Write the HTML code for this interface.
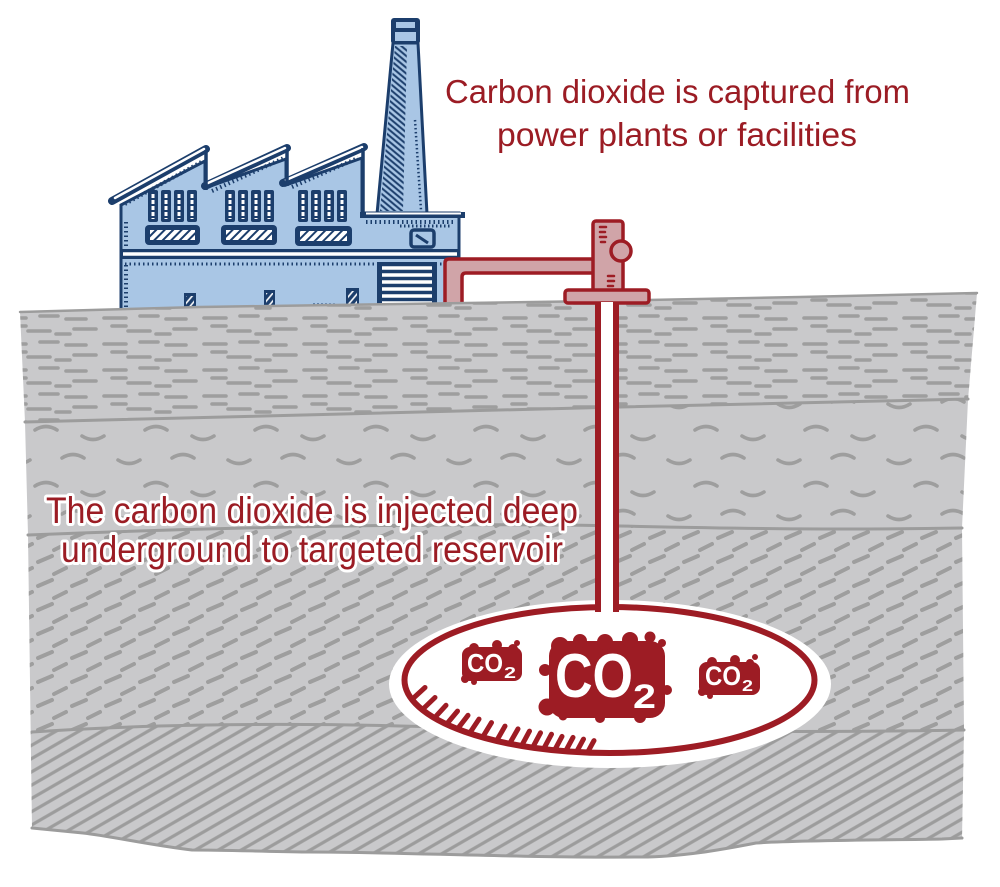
<!DOCTYPE html>
<html><head><meta charset="utf-8"><style>html,body{margin:0;padding:0;background:#fff;}svg{display:block}</style></head>
<body>
<svg width="1000" height="887" viewBox="0 0 1000 887" xmlns="http://www.w3.org/2000/svg">
<defs>
  <pattern id="pA" width="100" height="26" patternUnits="userSpaceOnUse">
    <g stroke="#9e9e9e" stroke-width="3.6" stroke-linecap="round" fill="none">
      <path d="M4,6 H26 M40,4 H58 M66,7 H86 M28,19 H50 M12,14 H26 M74,17 H96 M56,22 H70"/>
    </g>
  </pattern>
  <pattern id="pB" width="110" height="56" patternUnits="userSpaceOnUse">
    <g stroke="#9e9e9e" stroke-width="3.6" stroke-linecap="round" fill="none">
      <path d="M8,12 q11,7 22,0 M62,10 q11,-7 22,0 M35,38 q11,-7 22,0 M82,44 q11,7 22,0"/>
    </g>
  </pattern>
  <pattern id="pC" width="34" height="24" patternUnits="userSpaceOnUse">
    <g stroke="#9e9e9e" stroke-width="4" stroke-linecap="round" fill="none">
      <path d="M4,10 L18,4 M20,22 L32,16"/>
    </g>
  </pattern>
  <pattern id="pD" width="12" height="11.5" patternUnits="userSpaceOnUse" patternTransform="rotate(-30)">
    <line x1="0" y1="5.75" x2="12" y2="5.75" stroke="#9c9c9c" stroke-width="3.2"/>
  </pattern>
  <pattern id="nh" width="4.5" height="4.5" patternUnits="userSpaceOnUse" patternTransform="rotate(40)">
    <line x1="0" y1="2.25" x2="4.5" y2="2.25" stroke="#1c3e6c" stroke-width="2"/>
  </pattern>
  <pattern id="wh" width="6" height="6" patternUnits="userSpaceOnUse" patternTransform="rotate(-45)">
    <line x1="0" y1="3" x2="6" y2="3" stroke="#1c3e6c" stroke-width="2"/>
  </pattern>
  <pattern id="dh" width="5" height="5" patternUnits="userSpaceOnUse" patternTransform="rotate(-50)">
    <line x1="0" y1="2.5" x2="5" y2="2.5" stroke="#ffffff" stroke-width="1.6"/>
  </pattern>
  <clipPath id="ground">
    <path d="M20,312 L200,307 L400,304 L600,301 L800,297 L977,293 L968,400 L962,528 L964,730 L962,838 L942,839 C900,840 800,840 756,843 C720,850 680,857 641,857 C520,858 400,852 308,852 C250,851 220,850 192,850 C150,845 110,836 83,833 L32,828 L28,535 L25,422 Z"/>
  </clipPath>
</defs>

<rect width="1000" height="887" fill="#ffffff"/>

<!-- FACTORY -->
<g>
  <polygon points="393,43 418,43 427,214 377,214" fill="#a9c6e5" stroke="#1c3e6c" stroke-width="3"/>
  <polygon points="395,46 407,46 403,211 380,211" fill="url(#nh)"/>
  <line x1="415" y1="120" x2="421" y2="210" stroke="#1c3e6c" stroke-width="2.5" stroke-dasharray="1.5 2.5"/>
  <rect x="391" y="18" width="29" height="26" rx="3" fill="#1c3e6c"/>
  <rect x="396" y="22" width="19" height="6" fill="#a9c6e5"/>
  <rect x="395" y="32" width="21" height="9" fill="#a9c6e5"/>
  <path d="M121,205 L205,161 L205,188 L286,159 L286,185 L362,158 L362,213 L459,213 L459,318 L121,318 Z" fill="#a9c6e5" stroke="#1c3e6c" stroke-width="3"/>
  <g stroke-linecap="round">
    <line x1="112" y1="201" x2="206" y2="149" stroke="#1c3e6c" stroke-width="8"/>
    <line x1="115" y1="198" x2="204" y2="149" stroke="#ffffff" stroke-width="2.5"/>
    <line x1="205" y1="186" x2="287" y2="148" stroke="#1c3e6c" stroke-width="8"/>
    <line x1="208" y1="183" x2="285" y2="148" stroke="#ffffff" stroke-width="2.5"/>
    <line x1="283" y1="183" x2="364" y2="147" stroke="#1c3e6c" stroke-width="8"/>
    <line x1="286" y1="180" x2="362" y2="147" stroke="#ffffff" stroke-width="2.5"/>
  </g>
  <line x1="206" y1="150" x2="206" y2="190" stroke="#1c3e6c" stroke-width="3.5"/>
  <line x1="287" y1="150" x2="287" y2="186" stroke="#1c3e6c" stroke-width="3.5"/>
  <line x1="363" y1="148" x2="363" y2="214" stroke="#1c3e6c" stroke-width="3.5"/>
  <g stroke="#1c3e6c" stroke-width="4" stroke-dasharray="1.5 3">
    <line x1="125" y1="204" x2="203" y2="161"/>
    <line x1="212" y1="191" x2="284" y2="158"/>
    <line x1="292" y1="187" x2="358" y2="158"/>
    <line x1="366" y1="222" x2="455" y2="222"/>
    <line x1="126" y1="265" x2="126" y2="312"/>
    <line x1="126" y1="222" x2="126" y2="246"/>
    <line x1="125" y1="264" x2="455" y2="264" stroke-width="3"/>
  </g>
  <line x1="360" y1="215" x2="465" y2="215" stroke="#1c3e6c" stroke-width="6"/>
  <line x1="366" y1="213.5" x2="461" y2="213.5" stroke="#ffffff" stroke-width="2"/>
  <rect x="121" y="249" width="338" height="10" fill="#1c3e6c"/>
  <line x1="123" y1="254" x2="457" y2="254" stroke="#ffffff" stroke-width="3.5"/>
  <g fill="#1c3e6c">
    <rect x="148" y="190" width="10" height="32" rx="2"/><rect x="161" y="190" width="10" height="32" rx="2"/><rect x="174" y="190" width="10" height="32" rx="2"/><rect x="187" y="190" width="10" height="32" rx="2"/>
    <rect x="225" y="190" width="10" height="32" rx="2"/><rect x="238" y="190" width="10" height="32" rx="2"/><rect x="251" y="190" width="10" height="32" rx="2"/><rect x="264" y="190" width="10" height="32" rx="2"/>
    <rect x="298" y="190" width="10" height="32" rx="2"/><rect x="311" y="190" width="10" height="32" rx="2"/><rect x="324" y="190" width="10" height="32" rx="2"/><rect x="337" y="190" width="10" height="32" rx="2"/>
  </g>
  <g stroke="#ffffff" stroke-width="3" stroke-dasharray="4 2">
    <path d="M153,194 V219 M166,194 V219 M179,194 V219 M192,194 V219 M230,194 V219 M243,194 V219 M256,194 V219 M269,194 V219 M303,194 V219 M316,194 V219 M329,194 V219 M342,194 V219"/>
  </g>
  <g>
    <rect x="145" y="225" width="55" height="20" rx="4" fill="#1c3e6c"/>
    <rect x="150" y="230" width="45" height="10" fill="#ffffff"/><rect x="150" y="230" width="45" height="10" fill="url(#wh)"/>
    <rect x="221" y="225" width="56" height="20" rx="4" fill="#1c3e6c"/>
    <rect x="226" y="230" width="46" height="10" fill="#ffffff"/><rect x="226" y="230" width="46" height="10" fill="url(#wh)"/>
    <rect x="295" y="226" width="57" height="20" rx="4" fill="#1c3e6c"/>
    <rect x="300" y="231" width="47" height="10" fill="#ffffff"/><rect x="300" y="231" width="47" height="10" fill="url(#wh)"/>
    <rect x="411" y="230" width="23" height="17" rx="3" fill="#a9c6e5" stroke="#1c3e6c" stroke-width="3.5"/>
    <path d="M416,235 L428,243" stroke="#1c3e6c" stroke-width="3"/>
  </g>
  <line x1="400" y1="226" x2="452" y2="226" stroke="#1c3e6c" stroke-width="3" stroke-dasharray="1.5 2.5"/>
  <rect x="377" y="262" width="60" height="52" fill="#1c3e6c"/>
  <g stroke="#ffffff" stroke-width="3.5">
    <path d="M382,268 H432 M382,275 H432 M382,282 H432 M382,289 H432 M382,296 H432 M382,303 H432 M382,310 H432"/>
  </g>
  <rect x="184" y="293" width="12" height="22" fill="#1c3e6c"/><rect x="186" y="296" width="8" height="17" fill="url(#dh)"/>
  <rect x="264" y="290" width="11" height="24" fill="#1c3e6c"/><rect x="266" y="293" width="7" height="19" fill="url(#dh)"/>
  <rect x="346" y="288" width="13" height="26" fill="#1c3e6c"/><rect x="348" y="291" width="9" height="21" fill="url(#dh)"/>
  <line x1="220" y1="307" x2="246" y2="307" stroke="#1c3e6c" stroke-width="3" stroke-dasharray="2 2"/>
  <line x1="313" y1="305" x2="336" y2="305" stroke="#1c3e6c" stroke-width="3" stroke-dasharray="2 2"/>
</g>

<path d="M445,312 L445,263 Q445,259 449,259 L596,259 L596,273 L466,273 Q462,273 462,277 L462,312 Z" fill="#d0a4a8" stroke="#9d1c24" stroke-width="3.5"/>

<!-- GROUND -->
<path d="M20,312 L200,307 L400,304 L600,301 L800,297 L977,293 L968,400 L962,528 L964,730 L962,838 L942,839 C900,840 800,840 756,843 C720,850 680,857 641,857 C520,858 400,852 308,852 C250,851 220,850 192,850 C150,845 110,836 83,833 L32,828 L28,535 L25,422 Z" fill="#c9c9cb"/>
<g clip-path="url(#ground)">
  <path d="M0,280 H1000 V399 H968 C900,400 800,402 620,407 C400,414 200,416 25,422 H0 Z" fill="url(#pA)"/>
  <path d="M0,422 H25 C200,416 400,414 620,407 C800,402 900,400 968,399 H1000 V528 H962 C850,530 760,529 620,526 C450,522 200,528 28,535 H0 Z" fill="url(#pB)"/>
  <path d="M0,535 H28 C200,528 450,522 620,526 C760,529 850,530 962,528 H1000 V730 H964 C800,733 600,731 400,726 C250,722 120,726 32,732 H0 Z" fill="url(#pC)"/>
  <path d="M0,732 H32 C120,726 250,722 400,726 C600,731 800,733 964,730 H1000 V887 H0 Z" fill="url(#pD)"/>
</g>
<g stroke="#9c9c9c" stroke-width="3" fill="none" stroke-linecap="round">
  <path d="M20,312 L200,307 L400,304 L600,301 L800,297 L977,293" stroke-width="2.5"/>
  <path d="M25,422 C200,416 400,414 620,407 C800,402 900,400 968,399"/>
  <path d="M28,535 C200,528 450,522 620,526 C760,529 850,530 962,528"/>
  <path d="M32,732 C120,726 250,722 400,726 C600,731 800,733 964,730"/>
  <path d="M32,828 L83,833 C110,836 150,845 192,850 C220,850 250,851 308,852 C400,852 520,858 641,857 C680,857 720,850 756,843 C800,840 900,840 942,839 L962,838"/>
</g>

<!-- wellhead -->
<rect x="593" y="221" width="30" height="70" rx="3" fill="#d0a4a8" stroke="#9d1c24" stroke-width="3.5"/>
<circle cx="621" cy="251" r="10" fill="#d0a4a8" stroke="#9d1c24" stroke-width="3.5"/>
<g stroke="#9d1c24" stroke-width="2.5" stroke-linecap="round">
  <path d="M600,227 H606 M600,232 H605 M600,237 H606 M601,242 H605 M608,276 H614 M608,281 H614 M608,286 H613"/>
</g>
<rect x="565" y="290" width="84" height="13" rx="3" fill="#d0a4a8" stroke="#9d1c24" stroke-width="3.5"/>

<!-- reservoir -->
<ellipse cx="610" cy="684" rx="221" ry="84" fill="#ffffff"/>
<ellipse cx="609.5" cy="680" rx="205" ry="73" fill="none" stroke="#9d1c24" stroke-width="6"/>
<rect x="595" y="302" width="24" height="310" fill="#9d1c24"/>
<rect x="601" y="302" width="12" height="312" fill="#ffffff"/>

<g stroke="#9d1c24" stroke-width="5" stroke-linecap="round">
  <path d="M413,698.5 l12,-11 M423,709 l12,-11.5 M435,717.3 l11,-12 M447,723.6 l10.5,-12.5 M458,728.3 l10,-13 M470,732.6 l9,-13.5 M483,736.6 l8.5,-14 M497,740.1 l8,-14 M510,742.9 l8,-14 M522,745.1 l7.5,-14 M533,746.8 l7.5,-14 M544,748.2 l7.5,-14 M555,749.4 l7,-13 M566,750.4 l7,-13 M577,751.1 l6.5,-12 M588,751.6 l6,-11"/>
</g>

<!-- CO2 blobs -->
<g fill="#9d1c24">
  <rect x="549" y="641" width="116" height="77" rx="15"/>
  <circle cx="560" cy="646" r="9"/><circle cx="580" cy="641" r="7"/><circle cx="605" cy="642" r="8"/><circle cx="630" cy="640" r="8"/>
  <circle cx="650" cy="637" r="5.5"/><circle cx="662" cy="643" r="4"/>
  <circle cx="547" cy="707" r="8.5"/><circle cx="563" cy="716" r="4.5"/><circle cx="545" cy="670" r="6"/><circle cx="667" cy="690" r="5"/>
  <circle cx="600" cy="718" r="5"/><circle cx="640" cy="717" r="6"/>

  <rect x="462" y="647" width="60" height="34" rx="8"/>
  <circle cx="474" cy="648" r="5"/><circle cx="497" cy="645" r="5"/><circle cx="513" cy="649" r="5"/>
  <circle cx="517" cy="643" r="3"/><circle cx="465" cy="679" r="4"/><circle cx="474" cy="682" r="3"/>

  <rect x="699" y="662" width="61" height="33" rx="8"/>
  <circle cx="712" cy="662" r="5"/><circle cx="735" cy="660" r="5"/><circle cx="750" cy="663" r="4"/>
  <circle cx="755" cy="657" r="3"/><circle cx="702" cy="692" r="4"/><circle cx="710" cy="696" r="3"/>
</g>
<g fill="#ffffff" font-family="'Liberation Sans', sans-serif" font-weight="bold">
  <text x="555" y="697" font-size="62" textLength="78" lengthAdjust="spacingAndGlyphs">CO</text>
  <text x="633" y="708" font-size="34" textLength="23" lengthAdjust="spacingAndGlyphs">2</text>
  <text x="467" y="672" font-size="26" textLength="36" lengthAdjust="spacingAndGlyphs">CO</text>
  <text x="504" y="678" font-size="16" textLength="12" lengthAdjust="spacingAndGlyphs">2</text>
  <text x="705" y="685" font-size="27" textLength="36" lengthAdjust="spacingAndGlyphs">CO</text>
  <text x="742" y="691" font-size="16" textLength="11" lengthAdjust="spacingAndGlyphs">2</text>
</g>

<!-- texts -->
<g font-family="'Liberation Sans', sans-serif" fill="#9b1c24">
  <text x="445" y="103" font-size="33" textLength="465" lengthAdjust="spacingAndGlyphs">Carbon dioxide is captured from</text>
  <text x="497" y="146" font-size="33" textLength="360" lengthAdjust="spacingAndGlyphs">power plants or facilities</text>
</g>
<g font-family="'Liberation Sans', sans-serif" fill="#9b1c24" stroke="#ffffff" stroke-width="6" stroke-linejoin="round" paint-order="stroke">
  <text x="46" y="523" font-size="37" textLength="532" lengthAdjust="spacingAndGlyphs">The carbon dioxide is injected deep</text>
  <text x="61" y="562" font-size="37" textLength="502" lengthAdjust="spacingAndGlyphs">underground to targeted reservoir</text>
</g>
</svg>
</body></html>
